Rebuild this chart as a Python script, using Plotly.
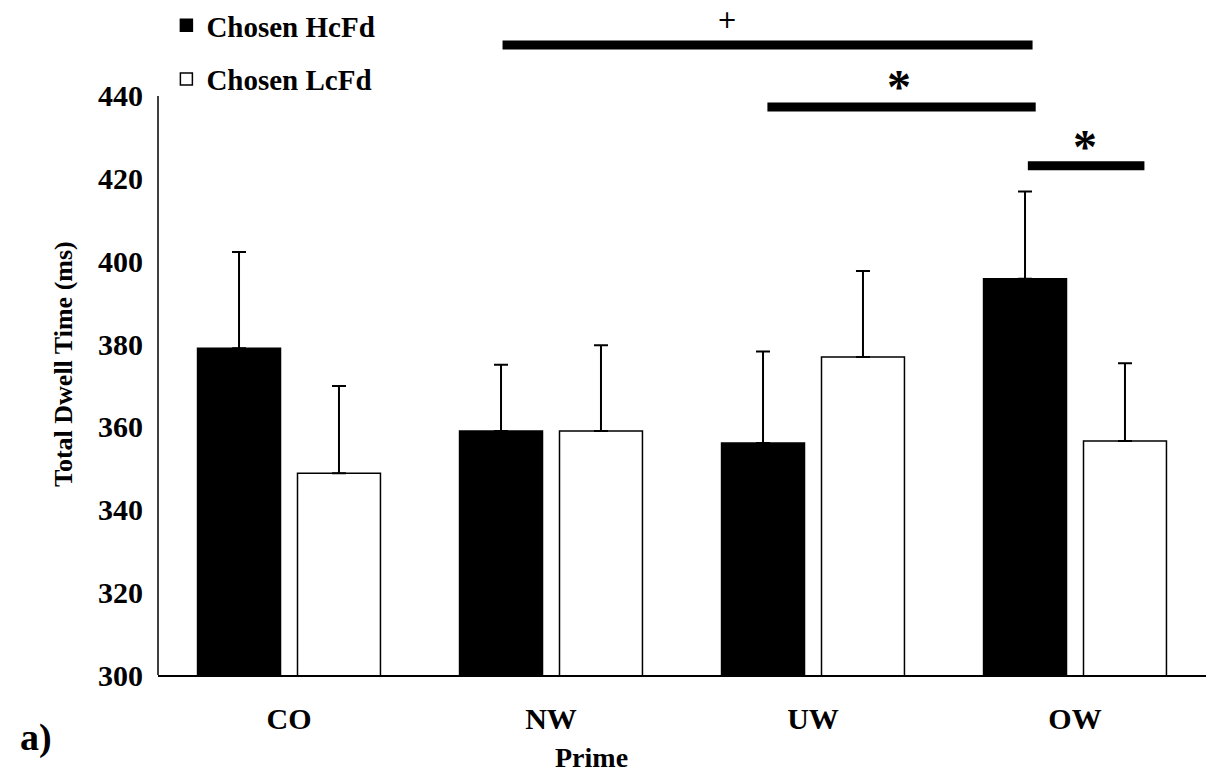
import plotly.graph_objects as go

# ---- data ----
categories = ["CO", "NW", "UW", "OW"]
hcfd_mean = [379.0, 359.0, 356.1, 395.8]
hcfd_err = [23.3, 16.0, 22.1, 21.1]
lcfd_mean = [348.8, 359.0, 376.9, 356.6]
lcfd_err = [21.1, 20.7, 20.8, 18.8]
series_names = ["Chosen HcFd", "Chosen LcFd"]
y_ticks = [300, 320, 340, 360, 380, 400, 420, 440]

# significance brackets (category-index units on x, data units on y)
sig_start = [0.815, 1.826, 2.82]
sig_end = [2.838, 2.85, 3.265]
sig_level = [452.3, 437.3, 423.1]
sig_label = ["+", "*", "*"]
sig_label_x = [1.67, 2.33, 3.04]
sig_label_y = [458.4, 444.6, 430.1]

FONT = "Liberation Serif"

fig = go.Figure()
fig.add_trace(go.Bar(
    x=categories, y=hcfd_mean, name=series_names[0],
    marker=dict(color="black", line=dict(color="black", width=1.5)),
    error_y=dict(type="data", array=hcfd_err, arrayminus=[0]*4, symmetric=False,
                 color="black", thickness=2, width=7),
    legendgroup="a",
))
fig.add_trace(go.Bar(
    x=categories, y=lcfd_mean, name=series_names[1],
    marker=dict(color="white", line=dict(color="black", width=1.5)),
    error_y=dict(type="data", array=lcfd_err, arrayminus=[0]*4, symmetric=False,
                 color="black", thickness=2, width=7),
    legendgroup="b",
))

shapes = [dict(type="line", xref="paper", yref="y", x0=0, x1=0, y0=300, y1=440,
               line=dict(color="black", width=1.5))]
for s, e, lv in zip(sig_start, sig_end, sig_level):
    shapes.append(dict(type="line", xref="x", yref="y", x0=s, x1=e, y0=lv, y1=lv,
                       line=dict(color="black", width=9)))

# plot area: 675 px tall (top 0, bottom 675)
PH = 675.0
def py(pix):
    return (PH - pix) / PH

annotations = []
for lab, lx, ly in zip(sig_label, sig_label_x, sig_label_y):
    if lab == "+":
        annotations.append(dict(x=lx, y=ly, xref="x", yref="y", text=lab, showarrow=False,
                                font=dict(family="DejaVu Sans", size=24, color="black")))
    else:
        annotations.append(dict(x=lx, y=ly, xref="x", yref="y", text="<b>*</b>", showarrow=False,
                                yshift=-10,
                                font=dict(family=FONT, size=48, color="black")))
annotations.append(dict(x=-0.1164, y=py(737), xref="paper", yref="paper", text="<b>a)</b>",
                        xanchor="center", yanchor="middle",
                        showarrow=False, font=dict(family=FONT, size=38, color="black")))
annotations.append(dict(x=0.414, y=py(757), xref="paper", yref="paper", text="<b>Prime</b>",
                        xanchor="center", yanchor="middle",
                        showarrow=False, font=dict(family=FONT, size=28, color="black")))
annotations.append(dict(x=-0.0906, y=py(364), xref="paper", yref="paper",
                        text="<b>Total Dwell Time (ms)</b>", textangle=-90,
                        xanchor="center", yanchor="middle",
                        showarrow=False, font=dict(family=FONT, size=26, color="black")))

fig.update_layout(
    width=1215, height=773,
    margin=dict(l=158, r=9, t=0, b=98),
    paper_bgcolor="white", plot_bgcolor="white",
    barmode="group", bargap=0.237, bargroupgap=0.17,
    font=dict(family=FONT, color="black"),
    showlegend=True,
    legend=dict(x=0.008, y=1.0, xanchor="left", yanchor="top",
                font=dict(family=FONT, size=29, color="black", weight="bold"),
                traceorder="grouped", tracegroupgap=13, bgcolor="rgba(0,0,0,0)"),
    shapes=shapes, annotations=annotations,
    xaxis=dict(showline=True, linecolor="black", linewidth=1.5, ticks="",
               ticklabelstandoff=16,
               tickfont=dict(family=FONT, size=30, color="black", weight="bold"),
               showgrid=False, zeroline=False),
    yaxis=dict(range=[300, 463.2], tickvals=y_ticks, ticks="", showline=False,
               showgrid=False, zeroline=False, ticklabelstandoff=14,
               tickfont=dict(family=FONT, size=30, color="black", weight="bold")),
)

fig.write_html("out.html")
